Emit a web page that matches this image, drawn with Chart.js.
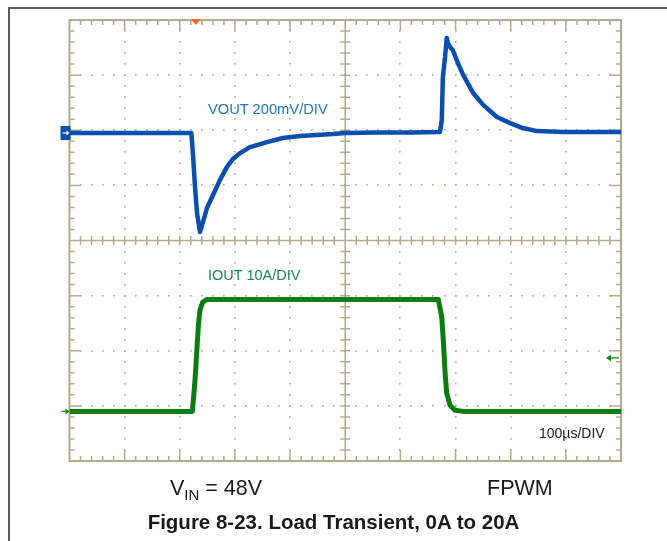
<!DOCTYPE html>
<html>
<head>
<meta charset="utf-8">
<script src="https://cdn.jsdelivr.net/npm/chart.js@4.4.1/dist/chart.umd.min.js"></script>
<style>
  html, body { margin: 0; padding: 0; background: #fff; }
  #wrap { position: relative; width: 667px; height: 541px; overflow: hidden; font-family: "Liberation Sans", Arial, sans-serif; }
  #c { position: absolute; left: 0; top: 0; }
  .t { position: absolute; white-space: nowrap; line-height: 1; }
</style>
</head>
<body>
<div id="wrap">
  <canvas id="c" width="667" height="541"></canvas>
  <div class="t" style="left:208px; top:102px; font-size:14.7px; color:#1a78c8;">VOUT 200mV/DIV</div>
  <div class="t" style="left:208px; top:268px; font-size:14.5px; color:#17875a;">IOUT 10A/DIV</div>
  <div class="t" style="left:539px; top:426px; font-size:14px; color:#1a1a1a;">100µs/DIV</div>
  <div class="t" style="left:170px; top:478px; font-size:21.5px; color:#1a1a1a;">V<sub style="font-size:15px; vertical-align:-5px;">IN</sub> = 48V</div>
  <div class="t" style="left:487px; top:478px; font-size:21.5px; color:#1a1a1a;">FPWM</div>
  <div class="t" style="left:0; width:667px; text-align:center; top:512px; font-size:20.5px; font-weight:bold; color:#1a1a1a;">Figure 8-23. Load Transient, 0A to 20A</div>
</div>
<script>
// Time base: 100 µs/div, 10 divisions
const voutTime = [0, 221, 224, 227.6, 231.2, 236.6, 242, 249.3, 260.2, 272.9, 285.6, 296.5, 310, 327.3, 358, 387, 418, 448, 478, 500, 560, 620, 671.8, 675, 677, 681, 684, 686, 690, 695, 704, 714, 732, 750, 775, 799, 822, 848, 895, 950, 1000];
const voutMv   = [0, 0, -80, -196, -290, -359, -323, -272, -225, -170, -123, -94, -72, -51, -33, -18, -11, -7, -4, 0, 2, 2, 4, 47, 203, 276, 345, 327, 312, 301, 255, 210, 145, 102, 58, 36, 18, 7, 4, 4, 4];

const ioutTime = [0, 222.7, 225, 227.6, 230.6, 233.5, 236.6, 241.5, 248.8, 450, 668.7, 674.9, 677.8, 681, 684, 690, 699, 713.5, 1000];
const ioutAmp  = [0, 0, 2.5, 5.7, 10.6, 15.3, 18.4, 19.8, 20.3, 20.3, 20.3, 17.2, 12.9, 7.0, 3.3, 1.1, 0.2, 0, 0];

const triggerTime = 229;      // µs, orange trigger marker
const triggerLevelA = 9.7;    // A, trigger level arrow (right edge)

const voutPts = voutTime.map((t, i) => ({ x: t, y: voutMv[i] }));
const ioutPts = ioutTime.map((t, i) => ({ x: t, y: ioutAmp[i] }));

const GRID = '#b2aa8a';

const graticule = {
  id: 'graticule',
  beforeDatasetsDraw(chart) {
    const ctx = chart.ctx;
    const xs = chart.scales.x, ys = chart.scales.yV;
    const X = v => xs.getPixelForValue(v);
    const Y = v => ys.getPixelForValue(v);
    const L = X(0), R = X(1000), T = Y(410), B = Y(-1190);
    const cx = X(500), cy = Y(410 - 4 * 200);
    ctx.save();
    ctx.fillStyle = GRID;
    for (let i = 1; i < 10; i++) {
      if (i === 5) continue;
      const x = X(i * 100);
      for (let k = 1; k < 40; k++) {
        const y = Y(410 - k * 40);
        ctx.fillRect(Math.round(x) - 1, Math.round(y) - 1, 1.6, 1.6);
      }
    }
    for (let j = 1; j < 8; j++) {
      if (j === 4) continue;
      const y = Y(410 - j * 200);
      for (let k = 1; k < 50; k++) {
        const x = X(k * 20);
        ctx.fillRect(Math.round(x) - 1, Math.round(y) - 1, 1.6, 1.6);
      }
    }
    ctx.strokeStyle = GRID;
    ctx.lineWidth = 1.5;
    ctx.beginPath();
    ctx.moveTo(L, cy); ctx.lineTo(R, cy);
    ctx.moveTo(cx, T); ctx.lineTo(cx, B);
    for (let k = 1; k < 50; k++) {
      const x = X(k * 20);
      ctx.moveTo(x, cy - 4.5); ctx.lineTo(x, cy + 4.5);
    }
    for (let k = 1; k < 40; k++) {
      const y = Y(410 - k * 40);
      ctx.moveTo(cx - 5, y); ctx.lineTo(cx + 5, y);
    }
    for (let k = 1; k < 50; k++) {
      const x = X(k * 20);
      const len = (k % 5 === 0) ? 11 : 5;
      ctx.moveTo(x, T); ctx.lineTo(x, T + len);
      ctx.moveTo(x, B); ctx.lineTo(x, B - len);
    }
    for (let k = 1; k < 40; k++) {
      const y = Y(410 - k * 40);
      const len = (k % 5 === 0) ? 11 : 5;
      ctx.moveTo(L, y); ctx.lineTo(L + len, y);
      ctx.moveTo(R, y); ctx.lineTo(R - len, y);
    }
    ctx.stroke();
    ctx.lineWidth = 2;
    ctx.strokeRect(L, T, R - L, B - T);
    ctx.restore();
  },
  afterDatasetsDraw(chart) {
    const ctx = chart.ctx;
    const xs = chart.scales.x;
    const L = xs.getPixelForValue(0), R = xs.getPixelForValue(1000);
    const T = chart.scales.yV.getPixelForValue(410);
    const yv0 = chart.scales.yV.getPixelForValue(0);
    const yi0 = chart.scales.yI.getPixelForValue(0);
    const yiT = chart.scales.yI.getPixelForValue(triggerLevelA);
    ctx.save();
    ctx.strokeStyle = '#5a5a5a';
    ctx.lineWidth = 2;
    ctx.beginPath();
    ctx.moveTo(9, 541); ctx.lineTo(9, 8); ctx.lineTo(667, 8);
    ctx.stroke();
    ctx.fillStyle = '#0a4fb4';
    ctx.fillRect(L - 9, yv0 - 7, 10, 14);
    ctx.strokeStyle = '#fff'; ctx.fillStyle = '#fff'; ctx.lineWidth = 1.2;
    ctx.beginPath(); ctx.moveTo(L - 7, yv0); ctx.lineTo(L - 2, yv0); ctx.stroke();
    ctx.beginPath(); ctx.moveTo(L, yv0); ctx.lineTo(L - 3, yv0 - 2.5); ctx.lineTo(L - 3, yv0 + 2.5); ctx.closePath(); ctx.fill();
    ctx.strokeStyle = '#118a11'; ctx.fillStyle = '#118a11'; ctx.lineWidth = 1.3;
    ctx.beginPath(); ctx.moveTo(L - 8, yi0); ctx.lineTo(L - 3, yi0); ctx.stroke();
    ctx.beginPath(); ctx.moveTo(L, yi0); ctx.lineTo(L - 4, yi0 - 3); ctx.lineTo(L - 4, yi0 + 3); ctx.closePath(); ctx.fill();
    ctx.beginPath(); ctx.moveTo(R - 2, yiT); ctx.lineTo(R - 10, yiT); ctx.stroke();
    ctx.beginPath(); ctx.moveTo(R - 15, yiT); ctx.lineTo(R - 10, yiT - 3.5); ctx.lineTo(R - 10, yiT + 3.5); ctx.closePath(); ctx.fill();
    const tx = xs.getPixelForValue(triggerTime);
    ctx.fillStyle = '#ff6420';
    ctx.beginPath(); ctx.moveTo(tx - 5, T - 1); ctx.lineTo(tx + 5, T - 1); ctx.lineTo(tx, T + 5); ctx.closePath(); ctx.fill();
    ctx.restore();
  }
};

new Chart(document.getElementById('c'), {
  type: 'line',
  data: {
    datasets: [
      { label: 'VOUT', data: voutPts, yAxisID: 'yV', borderColor: '#0a4fb0', borderWidth: 4.5, pointRadius: 0, tension: 0, borderJoinStyle: 'round' },
      { label: 'IOUT', data: ioutPts, yAxisID: 'yI', borderColor: '#0b7d10', borderWidth: 5, pointRadius: 0, tension: 0, borderJoinStyle: 'round' }
    ]
  },
  options: {
    responsive: false,
    animation: false,
    devicePixelRatio: 1,
    layout: { padding: { left: 69.5, right: 46, top: 20, bottom: 80 } },
    scales: {
      x: { type: 'linear', min: 0, max: 1000, display: false },
      yV: { type: 'linear', min: -1190, max: 410, display: false },
      yI: { type: 'linear', min: -9, max: 71, display: false }
    },
    plugins: { legend: { display: false }, tooltip: { enabled: false }, title: { display: false } }
  },
  plugins: [graticule]
});
</script>
</body>
</html>
